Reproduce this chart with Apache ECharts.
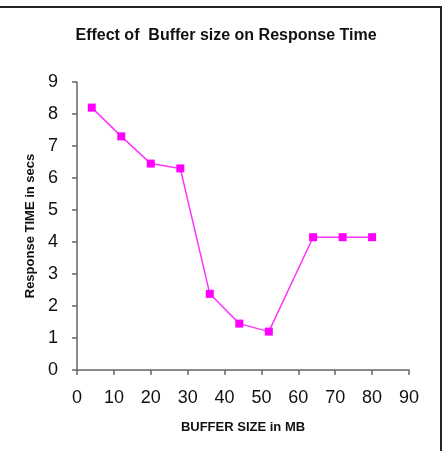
<!DOCTYPE html>
<html>
<head>
<meta charset="utf-8">
<script src="https://cdn.jsdelivr.net/npm/echarts@6/dist/echarts.min.js"></script>
<style>
  html, body { margin: 0; padding: 0; background: #fff; }
  #chart { width: 445px; height: 451px; }
</style>
</head>
<body>
<div id="chart"></div>
<script>
const bufferSizes = [4, 12, 20, 28, 36, 44, 52, 64, 72, 80];
const responseTimes = [8.2, 7.3, 6.45, 6.3, 2.38, 1.45, 1.2, 4.15, 4.15, 4.15];

const chart = echarts.init(document.getElementById('chart'));
const axisGray = '#666';
const font = 'Liberation Sans, Arial, sans-serif';

chart.setOption({
  animation: false,
  graphic: [{
    type: 'rect',
    shape: { x: -3, y: 7, width: 444, height: 460 },
    style: { fill: 'none', stroke: '#222', lineWidth: 2 }
  }],
  title: {
    text: 'Effect of  Buffer size on Response Time',
    left: 221, top: 23, textAlign: 'center',
    textStyle: { fontFamily: font, fontSize: 16, fontWeight: 'bold', color: '#111' }
  },
  grid: { left: 77, right: 36, top: 82, bottom: 81 },
  xAxis: {
    type: 'value', min: 0, max: 90, interval: 10,
    name: 'BUFFER SIZE in MB', nameLocation: 'middle', nameGap: 51,
    nameTextStyle: { fontFamily: font, fontSize: 13, fontWeight: 'bold', color: '#111' },
    axisLine: { onZero: false, lineStyle: { color: axisGray, width: 1.5 } },
    axisTick: { show: true, length: 5, lineStyle: { color: axisGray, width: 1.5 } },
    axisLabel: { fontFamily: font, fontSize: 18, color: '#111', margin: 19 },
    splitLine: { show: false }
  },
  yAxis: {
    type: 'value', min: 0, max: 9, interval: 1,
    name: 'Response TIME in secs', nameLocation: 'middle', nameGap: 38,
    nameTextStyle: { fontFamily: font, fontSize: 13, fontWeight: 'bold', color: '#111' },
    axisLine: { show: true, lineStyle: { color: axisGray, width: 1.5 } },
    axisTick: { show: true, length: 5, lineStyle: { color: axisGray, width: 1.5 } },
    axisLabel: { fontFamily: font, fontSize: 18, color: '#111', margin: 19 },
    splitLine: { show: false }
  },
  series: [{
    type: 'line',
    data: bufferSizes.map((x, i) => [x, responseTimes[i]]),
    symbol: 'rect',
    symbolSize: 8,
    lineStyle: { color: '#ff33ff', width: 1.5 },
    itemStyle: { color: '#ff00ff' }
  }]
});
</script>
</body>
</html>
